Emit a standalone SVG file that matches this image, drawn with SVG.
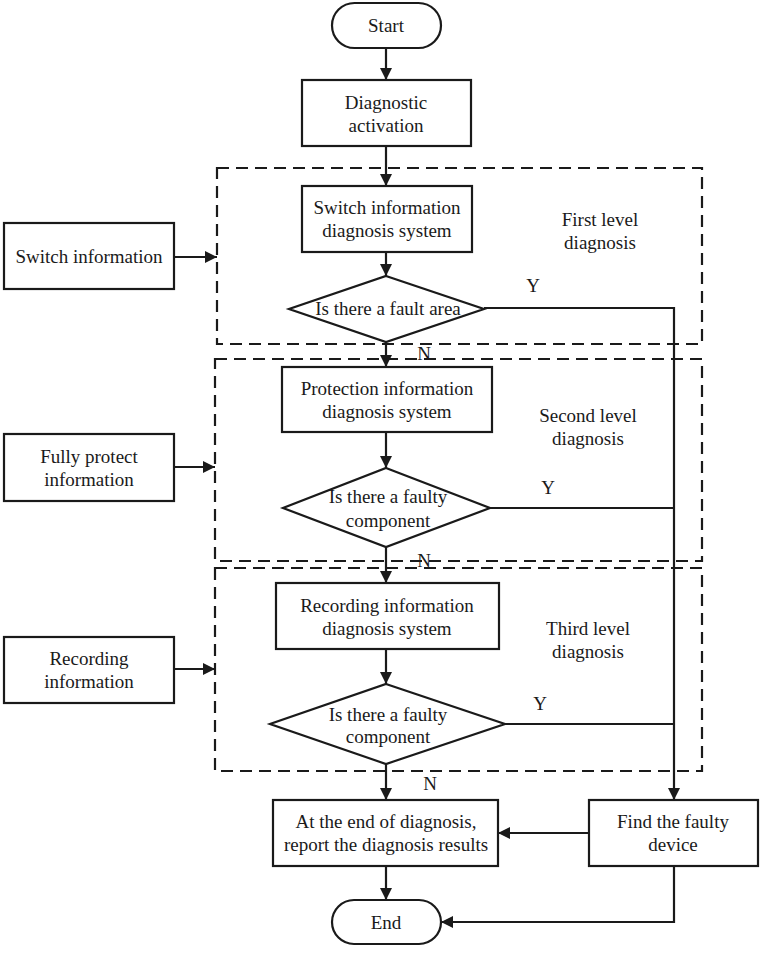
<svg xmlns="http://www.w3.org/2000/svg" width="763" height="953" viewBox="0 0 763 953">
<style>
.b{fill:#fff;stroke:#1a1a1a;stroke-width:2.2}
.d{fill:none;stroke:#1a1a1a;stroke-width:2.2;stroke-dasharray:12 7}
.c{fill:none;stroke:#1a1a1a;stroke-width:2.2}
text{font-family:"Liberation Serif","Times New Roman",serif;font-size:19px;fill:#1a1a1a;text-anchor:middle}
</style>
<defs>
<marker id="a" markerUnits="userSpaceOnUse" markerWidth="14" markerHeight="14" refX="12" refY="6" orient="auto">
<path d="M0,0 L12,6 L0,12 z" fill="#1a1a1a"/>
</marker>
</defs>
<rect width="763" height="953" fill="#fff"/>
<g id="regions">
<rect class="d" x="217" y="168" width="485" height="176"/>
<rect class="d" x="215" y="359" width="487" height="202"/>
<rect class="d" x="215" y="568" width="487" height="203"/>
<text x="600" y="226">First level</text>
<text x="600" y="249">diagnosis</text>
<text x="588" y="422">Second level</text>
<text x="588" y="445">diagnosis</text>
<text x="588" y="635">Third level</text>
<text x="588" y="658">diagnosis</text>
</g>
<g id="connectors">
<line class="c" x1="386" y1="48" x2="386" y2="80" marker-end="url(#a)"/>
<line class="c" x1="386" y1="146" x2="386" y2="186" marker-end="url(#a)"/>
<line class="c" x1="386" y1="252" x2="386" y2="276" marker-end="url(#a)"/>
<line class="c" x1="386" y1="342" x2="386" y2="367" marker-end="url(#a)"/>
<line class="c" x1="386" y1="432" x2="386" y2="468" marker-end="url(#a)"/>
<line class="c" x1="386" y1="547" x2="386" y2="583" marker-end="url(#a)"/>
<line class="c" x1="386" y1="649" x2="386" y2="684" marker-end="url(#a)"/>
<line class="c" x1="386" y1="764" x2="386" y2="800" marker-end="url(#a)"/>
<line class="c" x1="386" y1="866" x2="386" y2="900" marker-end="url(#a)"/>
<line class="c" x1="174" y1="257" x2="217" y2="257" marker-end="url(#a)"/>
<line class="c" x1="174" y1="467" x2="215" y2="467" marker-end="url(#a)"/>
<line class="c" x1="174" y1="669" x2="215" y2="669" marker-end="url(#a)"/>
<polyline class="c" points="484,308 674,308 674,800" marker-end="url(#a)"/>
<line class="c" x1="490" y1="508" x2="674" y2="508"/>
<line class="c" x1="505" y1="724" x2="674" y2="724"/>
<line class="c" x1="589" y1="833" x2="498" y2="833" marker-end="url(#a)"/>
<polyline class="c" points="674,866 674,922 441,922" marker-end="url(#a)"/>
<text x="533" y="292">Y</text>
<text x="548" y="494">Y</text>
<text x="540" y="710">Y</text>
<text x="424" y="360">N</text>
<text x="424" y="567">N</text>
<text x="430" y="790">N</text>
</g>
<g id="start">
<rect class="b" x="332" y="3" width="109" height="45" rx="22.5"/>
<text x="386" y="32">Start</text>
</g>
<g id="activation">
<rect class="b" x="302" y="80" width="169" height="66"/>
<text x="386" y="109">Diagnostic</text>
<text x="386" y="132">activation</text>
</g>
<g id="switch-system">
<rect class="b" x="302" y="186" width="170" height="66"/>
<text x="387" y="214">Switch information</text>
<text x="387" y="237">diagnosis system</text>
</g>
<g id="switch-info">
<rect class="b" x="4" y="223" width="170" height="66"/>
<text x="89" y="263">Switch information</text>
</g>
<g id="decision1">
<polygon class="b" points="386,276 484,309 386,342 289,309"/>
<text x="388" y="315">Is there a fault area</text>
</g>
<g id="protection-system">
<rect class="b" x="282" y="367" width="210" height="65"/>
<text x="387" y="395">Protection information</text>
<text x="387" y="418">diagnosis system</text>
</g>
<g id="protect-info">
<rect class="b" x="4" y="434" width="170" height="67"/>
<text x="89" y="463">Fully protect</text>
<text x="89" y="486">information</text>
</g>
<g id="decision2">
<polygon class="b" points="386,468 490,508 386,547 283,508"/>
<text x="388" y="503">Is there a faulty</text>
<text x="388" y="527">component</text>
</g>
<g id="recording-system">
<rect class="b" x="276" y="583" width="223" height="66"/>
<text x="387" y="612">Recording information</text>
<text x="387" y="635">diagnosis system</text>
</g>
<g id="recording-info">
<rect class="b" x="4" y="637" width="170" height="66"/>
<text x="89" y="665">Recording</text>
<text x="89" y="688">information</text>
</g>
<g id="decision3">
<polygon class="b" points="386,684 505,724 386,764 270,724"/>
<text x="388" y="721">Is there a faulty</text>
<text x="388" y="743">component</text>
</g>
<g id="report">
<rect class="b" x="273" y="800" width="225" height="66"/>
<text x="386" y="828">At the end of diagnosis,</text>
<text x="386" y="851">report the diagnosis results</text>
</g>
<g id="find">
<rect class="b" x="589" y="800" width="169" height="66"/>
<text x="673" y="828">Find the faulty</text>
<text x="673" y="851">device</text>
</g>
<g id="end">
<rect class="b" x="332" y="900" width="109" height="44" rx="22"/>
<text x="386" y="929">End</text>
</g>
</svg>
